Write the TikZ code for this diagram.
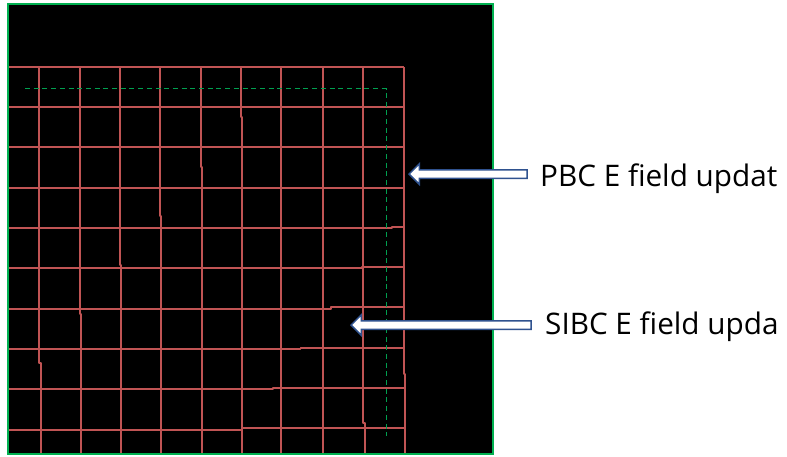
\documentclass[tikz,border=0pt]{standalone}
\usepackage{fontspec}
\setmainfont{Open Sans}
\usetikzlibrary{shapes.arrows}
\definecolor{edgegreen}{RGB}{0,176,80}
\definecolor{dashgreen}{RGB}{0,160,80}
\definecolor{gridred}{RGB}{192,84,84}
\definecolor{arrowblue}{RGB}{47,82,143}
\tikzset{gridline/.style = {draw = gridred, line width = 1.7pt, line join = round}}
\tikzset{pointer/.style = {single arrow, draw = arrowblue, fill = white, line width = 1.5pt, inner xsep = 0, inner ysep = 3.5pt, minimum width = 20pt, single arrow head extend = 6pt, single arrow head indent = 0pt, shape border rotate = 180, anchor = tip}}
\tikzset{callout/.style = {anchor = base west, inner sep = 0, font = \fontsize{29.7}{32}\selectfont}}
\begin{document}
\begin{tikzpicture}[x = 1pt, y = -1pt]
      \useasboundingbox (0, 0) rectangle (787, 456);
      \fill [black] (8, 4) rectangle (493, 454);
      \foreach \x/\xb/\yj in {39/41/363, 79.7/81/314, 120/121.1/265, 160/161.2/216, 200.7/202/167, 241/242.3/117, 281/281/200, 323/323/200, 363/365/423, 404/405.1/374} {
        \draw [gridline] (\x, 67) -- (\x, \yj) -- (\xb, \yj) -- (\xb, 454);
      }
      \foreach \y/\yb/\xj in {67/67/200, 107/107/200, 147.1/147.1/200, 187.7/187.7/200, 228.3/227/392, 268.3/267/362, 308.7/306.7/331, 349/347.7/300.5, 389.3/388/273, 430/428.3/242} {
        \draw [gridline] (9, \y) -- (\xj, \y) -- (\xj, \yb) -- (404, \yb);
      }
      \draw [dashgreen, line width = 1pt, dash pattern = on 5pt off 3.7pt] (25, 88.5) -- (386, 88.5) -- (386, 436);
      \draw [edgegreen, line width = 2pt] (8, 4) rectangle (493, 454);
      \node [pointer, minimum height = 118pt] (pbcarrow) at (408, 174) {};
      \node [pointer, minimum height = 180pt] (sibcarrow) at (350, 325) {};
      \node [callout] (pbclabel) at (540, 186) {PBC E field updat};
      \node [callout] (sibclabel) at (545, 334.5) {SIBC E field upda};
    \end{tikzpicture}
\end{document}
